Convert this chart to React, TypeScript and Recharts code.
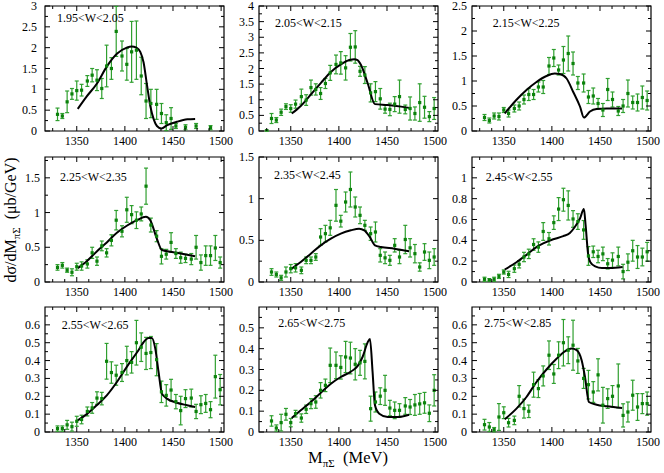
import React from 'react';
import { ComposedChart, Scatter, Line, XAxis, YAxis, ErrorBar, ReferenceArea } from 'recharts';

// ---------- data ----------
const massBins = [1325, 1330, 1335, 1340, 1345, 1350, 1355, 1361, 1366, 1371, 1376, 1381, 1386, 1391, 1397, 1402, 1407, 1412, 1417, 1422, 1427, 1433, 1438, 1443, 1448, 1453, 1458, 1463, 1469, 1474, 1479, 1484, 1489, 1494, 1499];

const wLabels = ['1.95<W<2.05', '2.05<W<2.15', '2.15<W<2.25', '2.25<W<2.35', '2.35<W<2.45', '2.45<W<2.55', '2.55<W<2.65', '2.65<W<2.75', '2.75<W<2.85'];

const xMajorTicks = [1350, 1400, 1450, 1500];
const xMinorTicks = [1325, 1337.5, 1362.5, 1375, 1387.5, 1412.5, 1425, 1437.5, 1462.5, 1475, 1487.5];

const p1Values = [null, 0.40, 0.36, 0.70, 0.89, 0.97, 0.98, 1.20, 1.34, 1.22, 1.02, 1.56, 1.50, 2.39, 1.80, 1.60, 1.90, 1.94, 1.32, 0.72, 0.66, 0.64, 0.42, 0.20, 0.30, 0.12, null, 0.09, null, 0.12, null, null, 0.08, null, null];
const p1Errors = [null, 0.15, 0.06, 0.26, 0.13, 0.23, 0.14, 0.13, 0.16, 0.25, 0.24, 0.5, 0.26, 0.6, 0.36, 0.38, 0.73, 0.7, 0.45, 0.42, 0.34, 0.36, 0.24, 0.19, 0.26, 0.06, null, 0.06, null, 0.06, null, null, 0.05, null, null];
const p1CurveX = [1351, 1360, 1371, 1381, 1392, 1402, 1407, 1412, 1416, 1419.4, 1423, 1426.4, 1430, 1433.3, 1438, 1444, 1454, 1465, 1473];
const p1CurveY = [0.53, 0.82, 1.14, 1.54, 1.86, 2.0, 2.03, 2.0, 1.9, 1.65, 1.1, 0.6, 0.28, 0.12, 0.06, 0.14, 0.22, 0.28, 0.29];

const p2Values = [0.01, 0.40, 0.35, 0.60, 0.78, 0.72, 0.86, 1.10, 0.99, 1.39, 1.33, 1.20, 1.52, 1.86, 2.13, 2.18, 2.02, 2.68, 2.69, 1.91, 1.79, 1.22, 1.26, 1.03, 0.70, 0.69, 0.86, 1.10, 0.69, 0.72, 0.56, 0.91, 0.76, 0.46, 0.72];
const p2Errors = [0.02, 0.16, 0.08, 0.1, 0.09, 0.12, 0.13, 0.24, 0.17, 0.24, 0.18, 0.19, 0.16, 0.24, 0.3, 0.36, 0.39, 0.44, 0.52, 0.16, 0.27, 0.29, 0.32, 0.33, 0.13, 0.2, 0.24, 0.53, 0.14, 0.37, 0.21, 0.6, 0.35, 0.16, 0.35];
const p2CurveX = [1351, 1360.4, 1371, 1381.4, 1391.7, 1402, 1410.8, 1416, 1419.4, 1423, 1430, 1437.5, 1450.7, 1464.6, 1473];
const p2CurveY = [0.56, 0.80, 1.17, 1.54, 1.89, 2.13, 2.27, 2.30, 2.27, 2.11, 1.52, 0.86, 0.83, 0.78, 0.74];

const p3Values = [null, 0.27, 0.21, 0.30, 0.29, 0.42, 0.35, 0.45, 0.50, 0.63, 0.73, 0.73, 0.88, 0.88, 1.30, 1.46, 1.22, 1.42, 1.55, 1.35, 0.96, 0.96, 0.68, 0.70, 0.55, 0.42, 0.83, 0.63, 0.40, 0.50, 0.75, 0.57, 0.57, 0.67, 0.61];
const p3Errors = [null, 0.06, 0.05, 0.06, 0.07, 0.05, 0.07, 0.07, 0.08, 0.09, 0.12, 0.1, 0.1, 0.13, 0.17, 0.17, 0.1, 0.27, 0.35, 0.23, 0.13, 0.18, 0.13, 0.16, 0.1, 0.13, 0.22, 0.15, 0.09, 0.13, 0.27, 0.13, 0.17, 0.23, 0.19];
const p3CurveX = [1351, 1363, 1373.6, 1384, 1394.4, 1403, 1408.3, 1415.3, 1422.2, 1429.2, 1433.3, 1439.6, 1446.5, 1457, 1473];
const p3CurveY = [0.35, 0.62, 0.82, 0.98, 1.10, 1.15, 1.14, 1.05, 0.78, 0.49, 0.27, 0.39, 0.44, 0.45, 0.45];

const p4Values = [null, 0.21, 0.24, 0.17, 0.14, 0.22, 0.23, 0.26, 0.42, 0.30, 0.52, 0.42, 0.60, 0.89, 0.73, 1.04, 0.97, 0.89, 0.98, 1.38, 0.82, 0.66, 0.37, 0.40, 0.57, 0.41, 0.35, 0.34, 0.33, 0.50, 0.28, 0.38, 0.38, 0.49, 0.28];
const p4Errors = [null, 0.04, 0.04, 0.03, 0.05, 0.05, 0.06, 0.06, 0.08, 0.06, 0.07, 0.06, 0.08, 0.14, 0.08, 0.18, 0.13, 0.12, 0.1, 0.26, 0.1, 0.08, 0.11, 0.07, 0.14, 0.07, 0.08, 0.06, 0.08, 0.17, 0.11, 0.14, 0.14, 0.18, 0.08];
const p4CurveX = [1351, 1360.4, 1370.8, 1381.2, 1391.7, 1402, 1412.5, 1421.9, 1426.4, 1433.3, 1438.5, 1454, 1473];
const p4CurveY = [0.20, 0.30, 0.44, 0.57, 0.71, 0.81, 0.89, 0.94, 0.89, 0.62, 0.46, 0.42, 0.37];

const p5Values = [null, 0.12, 0.09, 0.05, 0.12, 0.16, 0.17, 0.14, 0.26, 0.26, 0.30, 0.54, 0.58, 0.65, 0.92, 0.73, 0.96, 1.11, 0.90, 0.80, 0.68, 0.58, 0.60, 0.32, 0.29, 0.26, 0.44, 0.30, 0.51, 0.41, 0.34, 0.18, 0.36, 0.26, 0.30];
const p5Errors = [null, 0.04, 0.03, 0.03, 0.06, 0.05, 0.05, 0.04, 0.04, 0.04, 0.04, 0.1, 0.1, 0.09, 0.19, 0.07, 0.12, 0.21, 0.12, 0.1, 0.06, 0.08, 0.12, 0.08, 0.07, 0.06, 0.08, 0.08, 0.17, 0.11, 0.11, 0.05, 0.1, 0.1, 0.1];
const p5CurveX = [1351, 1360.4, 1370.8, 1381.2, 1391.7, 1402, 1412.5, 1421, 1426.4, 1431.6, 1437.5, 1443.7, 1457.6, 1473];
const p5CurveY = [0.16, 0.24, 0.34, 0.44, 0.52, 0.58, 0.62, 0.64, 0.62, 0.55, 0.44, 0.42, 0.40, 0.37];

const p6Values = [null, 0.026, 0.02, 0.026, 0.054, 0.096, 0.073, 0.128, 0.17, 0.24, 0.27, 0.36, 0.335, 0.485, 0.415, 0.57, 0.70, 0.79, 0.735, 0.605, 0.58, 0.50, 0.25, 0.29, 0.245, 0.27, 0.175, 0.21, 0.245, 0.10, 0.19, 0.30, 0.24, 0.24, 0.29];
const p6Errors = [null, 0.02, 0.012, 0.02, 0.02, 0.02, 0.03, 0.035, 0.035, 0.045, 0.045, 0.055, 0.05, 0.085, 0.06, 0.065, 0.11, 0.11, 0.14, 0.08, 0.075, 0.09, 0.09, 0.055, 0.06, 0.065, 0.05, 0.07, 0.09, 0.07, 0.08, 0.1, 0.11, 0.085, 0.09];
const p6CurveX = [1351, 1363.2, 1373.6, 1384, 1391, 1401.4, 1411.8, 1418.7, 1424, 1429.2, 1433.3, 1435, 1437.5, 1440, 1445, 1452, 1460.4, 1473.5];
const p6CurveY = [0.12, 0.19, 0.26, 0.335, 0.37, 0.41, 0.44, 0.47, 0.53, 0.61, 0.70, 0.55, 0.28, 0.19, 0.15, 0.134, 0.134, 0.144];

const p7Values = [null, 0.019, 0.019, 0.04, 0.03, 0.06, 0.07, 0.115, 0.135, 0.19, 0.187, 0.396, 0.333, 0.318, 0.333, 0.40, 0.39, 0.50, 0.475, 0.44, 0.445, 0.405, 0.225, 0.205, 0.235, 0.17, 0.12, 0.187, 0.19, 0.115, 0.153, 0.16, 0.125, 0.31, 0.237];
const p7Errors = [null, 0.015, 0.015, 0.025, 0.025, 0.028, 0.024, 0.025, 0.03, 0.035, 0.035, 0.1, 0.06, 0.056, 0.05, 0.08, 0.06, 0.125, 0.08, 0.09, 0.09, 0.09, 0.06, 0.06, 0.06, 0.04, 0.08, 0.05, 0.05, 0.04, 0.05, 0.05, 0.045, 0.12, 0.085];
const p7CurveX = [1351, 1360.4, 1370.8, 1381.2, 1391.7, 1402, 1412.5, 1421.2, 1424.6, 1428, 1431.6, 1435, 1438.5, 1443.7, 1454, 1464.6, 1473];
const p7CurveY = [0.065, 0.10, 0.15, 0.205, 0.28, 0.365, 0.445, 0.514, 0.527, 0.527, 0.467, 0.336, 0.215, 0.187, 0.164, 0.15, 0.14];

const p8Values = [null, 0.053, 0.019, 0.045, 0.085, 0.045, 0.088, 0.067, 0.109, 0.136, 0.144, 0.20, 0.224, 0.32, 0.32, 0.31, 0.36, 0.355, 0.325, 0.332, 0.339, 0.112, 0.144, 0.172, 0.20, 0.115, 0.104, 0.104, 0.125, 0.12, 0.13, 0.135, 0.14, 0.09, 0.20];
const p8Errors = [null, 0.025, 0.015, 0.04, 0.028, 0.02, 0.016, 0.02, 0.02, 0.024, 0.03, 0.037, 0.03, 0.083, 0.064, 0.056, 0.075, 0.076, 0.075, 0.06, 0.084, 0.06, 0.048, 0.04, 0.072, 0.037, 0.04, 0.032, 0.04, 0.036, 0.05, 0.05, 0.05, 0.04, 0.075];
const p8CurveX = [1351, 1360.4, 1370.8, 1381.2, 1391.7, 1402, 1412.5, 1419.4, 1424.6, 1429.9, 1432.3, 1435, 1437.5, 1442, 1450.7, 1461, 1473];
const p8CurveY = [0.067, 0.104, 0.144, 0.188, 0.232, 0.264, 0.29, 0.316, 0.36, 0.43, 0.447, 0.29, 0.128, 0.088, 0.072, 0.072, 0.083];

const p9Values = [null, 0.041, 0.028, 0.013, 0.084, 0.108, 0.052, 0.065, 0.20, 0.131, 0.116, 0.265, 0.243, 0.314, 0.43, 0.325, 0.43, 0.50, 0.458, 0.486, 0.398, 0.30, 0.265, 0.224, 0.32, 0.15, 0.187, 0.20, 0.258, 0.093, 0.112, 0.206, 0.14, 0.159, 0.159];
const p9Errors = [null, 0.03, 0.025, 0.012, 0.075, 0.033, 0.024, 0.024, 0.06, 0.053, 0.035, 0.07, 0.05, 0.056, 0.08, 0.053, 0.075, 0.13, 0.075, 0.14, 0.07, 0.056, 0.08, 0.058, 0.09, 0.1, 0.055, 0.06, 0.123, 0.065, 0.056, 0.084, 0.075, 0.056, 0.065];
const p9CurveX = [1351, 1363.2, 1373.6, 1384, 1394.4, 1404.8, 1413.5, 1420.5, 1425.7, 1431, 1434.4, 1438.5, 1446.5, 1457, 1473];
const p9CurveY = [0.071, 0.131, 0.196, 0.28, 0.35, 0.41, 0.452, 0.467, 0.458, 0.40, 0.308, 0.168, 0.153, 0.144, 0.135];

const yMaxes = [3, 4, 2.5, 1.8, 1.5, 1.2, 0.7, 0.6, 0.7];
const yMajorTicks = [
  [0, 0.5, 1, 1.5, 2, 2.5, 3],
  [0, 0.5, 1, 1.5, 2, 2.5, 3, 3.5, 4],
  [0, 0.5, 1, 1.5, 2, 2.5],
  [0, 0.5, 1, 1.5],
  [0, 0.5, 1, 1.5],
  [0, 0.2, 0.4, 0.6, 0.8, 1],
  [0, 0.1, 0.2, 0.3, 0.4, 0.5, 0.6],
  [0, 0.1, 0.2, 0.3, 0.4, 0.5],
  [0, 0.1, 0.2, 0.3, 0.4, 0.5, 0.6],
];
const yMinorTicks = [
  [0.25, 0.75, 1.25, 1.75, 2.25, 2.75],
  [0.25, 0.75, 1.25, 1.75, 2.25, 2.75, 3.25, 3.75],
  [0.25, 0.75, 1.25, 1.75, 2.25],
  [0.25, 0.75, 1.25, 1.75],
  [0.25, 0.75, 1.25],
  [0.1, 0.3, 0.5, 0.7, 0.9, 1.1],
  [0.05, 0.15, 0.25, 0.35, 0.45, 0.55, 0.65],
  [0.05, 0.15, 0.25, 0.35, 0.45, 0.55],
  [0.05, 0.15, 0.25, 0.35, 0.45, 0.55, 0.65],
];

const valuesList = [p1Values, p2Values, p3Values, p4Values, p5Values, p6Values, p7Values, p8Values, p9Values];
const errorsList = [p1Errors, p2Errors, p3Errors, p4Errors, p5Errors, p6Errors, p7Errors, p8Errors, p9Errors];
const curveXList = [p1CurveX, p2CurveX, p3CurveX, p4CurveX, p5CurveX, p6CurveX, p7CurveX, p8CurveX, p9CurveX];
const curveYList = [p1CurveY, p2CurveY, p3CurveY, p4CurveY, p5CurveY, p6CurveY, p7CurveY, p8CurveY, p9CurveY];

// ---------- layout ----------
const X_DOMAIN = [1317, 1503];
const PW = 179;
const PH = 125;
const YW = 40;
const MT = 12;
const MR = 18;
const XH = 24;
const colLefts = [45, 258.5, 472];
const rowTops = [6, 157, 307];
const yLabelGaps = [8, 5, 5, 5, 5, 5, 5, 5, 5];
const labelPos = [
  [57, 18.3], [275, 23.3], [492.7, 23.3],
  [60, 176.7], [274, 175], [485.7, 177.3],
  [61.7, 325], [278.3, 322.7], [484.3, 323.3],
];
const FONT = '"Liberation Serif", "Times New Roman", Times, serif';
const PT_COLOR = '#0b820b';
const BAR_COLOR = '#2f9f2f';

function makeXTick() {
  return (props: any) => {
    const { x, y, payload } = props;
    const v = payload.value;
    const major = xMajorTicks.includes(v);
    const len = major ? 5 : 3;
    return (
      <g>
        <line x1={x} x2={x} y1={y} y2={y - len} stroke="#000" strokeWidth={1} />
        <line x1={x} x2={x} y1={y - PH} y2={y - PH + len} stroke="#000" strokeWidth={1} />
        {major && (
          <text x={x} y={y + 13.5} textAnchor="middle" fontSize={12} fontFamily={FONT} fill="#000">
            {String(v)}
          </text>
        )}
      </g>
    );
  };
}

function makeYTick(majors: number[], gap: number) {
  return (props: any) => {
    const { x, y, payload } = props;
    const v = payload.value;
    const major = majors.includes(v);
    const len = major ? 5 : 3;
    return (
      <g>
        <line x1={x} x2={x + len} y1={y} y2={y} stroke="#000" strokeWidth={1} />
        <line x1={x + PW} x2={x + PW - len} y1={y} y2={y} stroke="#000" strokeWidth={1} />
        {major && (
          <text x={x - gap} y={y + 4} textAnchor="end" fontSize={12} fontFamily={FONT} fill="#000">
            {String(v)}
          </text>
        )}
      </g>
    );
  };
}

const PointShape = (props: any) => {
  const { cx, cy } = props;
  if (cx == null || cy == null) return <g />;
  return <rect x={cx - 1.6} y={cy - 1.6} width={3.2} height={3.2} fill={PT_COLOR} />;
};

function Panel({ idx }: { idx: number }) {
  const col = idx % 3;
  const row = Math.floor(idx / 3);
  const left = colLefts[col];
  const top = rowTops[row];
  const vals = valuesList[idx];
  const errs = errorsList[idx];
  const pts = massBins
    .map((x, i) => ({ x, y: vals[i], err: errs[i] }))
    .filter((p) => p.y !== null && p.y !== undefined);
  const curve = curveXList[idx].map((x, i) => ({ x, y: curveYList[idx][i] }));
  const xTicks = [...xMajorTicks, ...xMinorTicks].sort((a, b) => a - b);
  const yTicks = [...yMajorTicks[idx], ...yMinorTicks[idx]].sort((a, b) => a - b);
  const yMax = yMaxes[idx];
  return (
    <div style={{ position: 'absolute', left: left - YW, top: top - MT }}>
      <ComposedChart
        width={YW + PW + MR}
        height={MT + PH + XH}
        margin={{ top: MT, right: MR, left: 0, bottom: 0 }}
        style={{ overflow: 'visible' }}
      >
        <XAxis
          type="number"
          dataKey="x"
          domain={X_DOMAIN}
          allowDataOverflow
          ticks={xTicks}
          interval={0}
          tickSize={0}
          tickMargin={0}
          axisLine={false}
          tickLine={false}
          height={XH}
          tick={makeXTick()}
        />
        <YAxis
          type="number"
          dataKey="y"
          domain={[0, yMax]}
          allowDataOverflow
          ticks={yTicks}
          interval={0}
          tickSize={0}
          tickMargin={0}
          axisLine={false}
          tickLine={false}
          width={YW}
          tick={makeYTick(yMajorTicks[idx], yLabelGaps[idx])}
        />
        <ReferenceArea
          x1={X_DOMAIN[0]}
          x2={X_DOMAIN[1]}
          y1={0}
          y2={yMax}
          fill="none"
          fillOpacity={0}
          stroke="#000"
          strokeWidth={1.2}
        />
        <Scatter data={pts} isAnimationActive={false} shape={PointShape}>
          <ErrorBar dataKey="err" direction="y" width={2} stroke={BAR_COLOR} strokeWidth={1.2} isAnimationActive={false} />
        </Scatter>
        <Line
          data={curve}
          dataKey="y"
          type="monotone"
          stroke="#000"
          strokeWidth={2}
          dot={false}
          activeDot={false}
          isAnimationActive={false}
        />
      </ComposedChart>
    </div>
  );
}

export default function App() {
  return (
    <div style={{ position: 'absolute', left: 0, top: 0, width: 664, height: 473, background: '#fff', overflow: 'hidden' }}>
      {wLabels.map((_, i) => (
        <Panel key={i} idx={i} />
      ))}
      <svg width={664} height={473} style={{ position: 'absolute', left: 0, top: 0, pointerEvents: 'none' }}>
        {wLabels.map((t, i) => (
          <text key={i} x={labelPos[i][0]} y={labelPos[i][1] + 4} fontSize={12} fontFamily={FONT} fill="#000">
            {t}
          </text>
        ))}
        <text x={348} y={463} textAnchor="middle" fontSize={16.5} fontFamily={FONT} fill="#000">
          M<tspan fontSize={11} dy={4}>πΣ</tspan>
          <tspan dy={-4}>{'\u00A0\u00A0(MeV)'}</tspan>
        </text>
        <text
          x={16}
          y={220}
          transform="rotate(-90 16 220)"
          textAnchor="middle"
          fontSize={16}
          fontFamily={FONT}
          fill="#000"
        >
          dσ/dM<tspan fontSize={11} dy={4}>πΣ</tspan>
          <tspan dy={-4}>{'\u00A0\u00A0(μb/GeV)'}</tspan>
        </text>
      </svg>
    </div>
  );
}
